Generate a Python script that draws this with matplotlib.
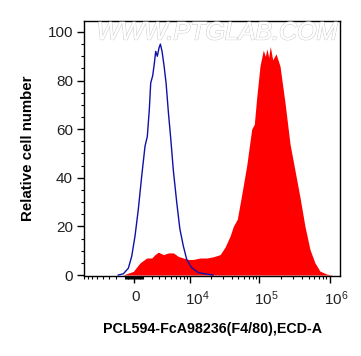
import numpy as np
import matplotlib
matplotlib.use("Agg")
import matplotlib.pyplot as plt
from matplotlib.ticker import FixedLocator, FixedFormatter, MultipleLocator
import matplotlib.patheffects as pe
import matplotlib.transforms as mtransforms

plt.rcParams['font.family'] = ['Liberation Sans', 'DejaVu Sans']
plt.rcParams['mathtext.fontset'] = 'custom'
plt.rcParams['mathtext.rm'] = 'Liberation Sans'
plt.rcParams['mathtext.it'] = 'Liberation Sans'

# ---- data (fluorescence intensity vs relative cell number) ----
blue_x = [-1760, -1170, -610, -247, 107, 462, 834, 1205, 1471, 1709, 1880, 2131,
          2340, 2527, 2748, 2995, 3190, 3448, 3771, 4105, 4513, 4966, 5487, 6222,
          6984, 7899, 8908, 10590, 13250, 16600, 21660]
blue_y = [0, 0.5, 2.8, 7.7, 16, 27, 40.7, 53, 57, 68, 79, 82,
          87, 92, 90, 93.5, 95, 92, 86, 79, 67, 56, 43, 30,
          19, 12, 6.4, 3, 1, 0.5, 0]

red_x = [-1205, -75, 647, 1401, 2005, 2431, 2892, 3654, 4513, 5487, 6578, 7899,
         9414, 11180, 14036, 17580, 21870, 27390, 32300, 38050, 42320, 48280,
         55770, 65710, 77460, 84350, 91280, 101700, 113300, 121000, 128000,
         135200, 142600, 154300, 171900, 195900, 230800, 272000, 320500, 377500,
         444800, 523800, 617000, 726900, 905400, 1114000]
red_y = [0, 1.5, 5, 7, 7, 8.4, 9.4, 8.4, 9.1, 9.1, 7.7, 7,
         6.4, 6.4, 7, 7, 7.5, 8.4, 11.5, 16, 20, 23,
         33, 45, 60, 62, 73, 86, 92.5, 90, 93,
         89.5, 94, 88.5, 91, 86, 71, 54, 43, 32,
         20, 10.5, 5, 1.6, 0.4, 0]

x_major = [0, 1e4, 1e5, 1e6]
x_major_labels = ['0', '$10^4$', '$10^5$', '$10^6$']
y_ticks = [0, 20, 40, 60, 80, 100]

xlabel = 'PCL594-FcA98236(F4/80),ECD-A'
ylabel = 'Relative cell number'
watermark = 'WWW.PTGLAB.COM'

# ---- scale (biexponential-like display) ----
C = 3268.0
def fwd(x):
    return np.arcsinh(np.asarray(x, dtype=float) / C)
def inv(y):
    return C * np.sinh(np.asarray(y, dtype=float))

fig = plt.figure(figsize=(3.61, 3.56), dpi=100)
ax = fig.add_axes([84/361, 80/356, 256/361, 255/356])
ax.set_xscale('function', functions=(fwd, inv))

ax.fill_between(red_x, red_y, 0, color='#ff0000', linewidth=0, zorder=2)
ax.plot(blue_x, blue_y, color='#1010a8', linewidth=1.0, zorder=3)

ax.set_xlim(-8105, 1.402e6)
ax.set_ylim(-0.4, 104.5)

minor = []
for k in range(1, 10):
    minor += [-100 * k, 100 * k]
for k in range(1, 9):
    minor += [-1000 * k]
for k in range(1, 10):
    minor += [1000 * k]
for d in (1e4, 1e5):
    for k in range(2, 10):
        minor.append(k * d)
minor = sorted(m for m in minor if m not in x_major)

ax.xaxis.set_major_locator(FixedLocator(x_major))
ax.xaxis.set_major_formatter(FixedFormatter(x_major_labels))
ax.xaxis.set_minor_locator(FixedLocator(minor))
ax.yaxis.set_major_locator(FixedLocator(y_ticks))
ax.yaxis.set_minor_locator(MultipleLocator(5))

ax.tick_params(axis='both', which='major', direction='out', length=5, width=1.0,
               color='black', labelsize=11, labelcolor='#222222')
ax.tick_params(axis='both', which='minor', direction='out', length=2.5, width=0.8,
               color='black')
ax.tick_params(axis='x', which='major', pad=5)
ax.tick_params(axis='y', which='major', pad=3)

fig.canvas.draw()
for lbl in ax.get_xticklabels():
    if lbl.get_text() != '0':
        lbl.set_transform(lbl.get_transform() +
                          mtransforms.ScaledTranslation(7/100, 0, fig.dpi_scale_trans))
    else:
        lbl.set_transform(lbl.get_transform() +
                          mtransforms.ScaledTranslation(1.5/100, 0, fig.dpi_scale_trans))

for s in ax.spines.values():
    s.set_linewidth(1.0)
    s.set_color('black')

ax.set_xlabel(xlabel, fontsize=10.3, fontweight='bold', labelpad=10)
ax.set_ylabel(ylabel, fontsize=10.8, fontweight='bold', labelpad=9)

t = ax.text(0.52, 0.955, watermark, transform=ax.transAxes, ha='center', va='center',
            fontsize=18, color='white', style='italic', zorder=5)
t.set_path_effects([pe.withStroke(linewidth=1.0, foreground='#d0d0d0'), pe.Normal()])

fig.savefig('out.png', dpi=100)
